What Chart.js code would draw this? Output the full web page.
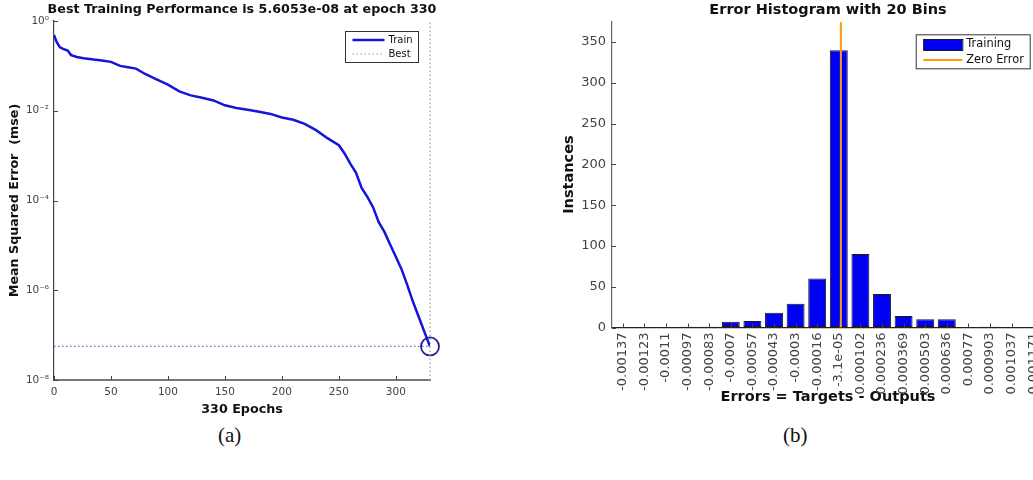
<!DOCTYPE html>
<html>
<head>
<meta charset="utf-8">
<script src="https://cdn.jsdelivr.net/npm/chart.js@4.4.0/dist/chart.umd.min.js"></script>
<style>
html, body { margin: 0; padding: 0; background: #fff; overflow: hidden; width: 1033px; height: 480px; }
#wrapA { position: absolute; left: 0; top: 0; width: 445px; height: 420px; }
#wrapB { position: absolute; left: 540px; top: 0; width: 520px; height: 412px; }
.cap { position: absolute; top: 423px; font-family: "Liberation Serif", "DejaVu Serif", serif; font-size: 21px; color: #111; }
</style>
</head>
<body>
<div id="wrapA"><canvas id="perfChart"></canvas></div>
<div id="wrapB"><canvas id="histChart"></canvas></div>
<div class="cap" style="left:218px">(a)</div>
<div class="cap" style="left:783px">(b)</div>

<script>
// (a) training performance, mse per epoch
var epochs   = [0, 2, 5, 8, 12, 15, 20, 26, 35, 42, 50, 58, 65, 72, 80, 90, 100, 110, 120, 130,
                140, 150, 160, 170, 180, 190, 200, 210, 220, 230, 240, 250, 255, 260, 265, 270,
                275, 280, 285, 290, 295, 300, 305, 310, 315, 320, 325, 330];
var trainMse = [0.49, 0.355, 0.263, 0.24, 0.219, 0.174, 0.158, 0.148, 0.138, 0.132, 0.123, 0.100,
                0.093, 0.087, 0.066, 0.050, 0.038, 0.027, 0.022, 0.0195, 0.017, 0.0132, 0.0115,
                0.0105, 0.0095, 0.0085, 0.0071, 0.0063, 0.0051, 0.0037, 0.00245, 0.0017, 0.00112,
                0.00066, 0.00042, 0.00019, 0.00012, 7.1e-5, 3.3e-5, 2.0e-5, 1.05e-5, 5.6e-6,
                2.95e-6, 1.32e-6, 5.6e-7, 2.6e-7, 1.2e-7, 5.6053e-8];
var bestMse = 5.6053e-8;
var bestEpoch = 330;
var yTickValues = [1e-8, 1e-6, 1e-4, 1e-2, 1];
var yTickLabels = ['10\u207B\u2078', '10\u207B\u2076', '10\u207B\u2074', '10\u207B\u00B2', '10\u2070'];

// (b) error histogram
var binLabels = ['-0.00137', '-0.00123', '-0.0011', '-0.00097', '-0.00083', '-0.0007', '-0.00057',
                 '-0.00043', '-0.0003', '-0.00016', '-3.1e-05', '0.000102', '0.000236', '0.000369',
                 '0.000503', '0.000636', '0.00077', '0.000903', '0.001037', '0.001171'];
var binCounts = [0, 0, 0, 1, 1, 7, 8, 18, 29, 60, 340, 90, 41, 14, 10, 10, 0, 1, 0, 0];
var zeroError = 0;

Chart.defaults.font.family = '"DejaVu Sans", sans-serif';

// title centered over the plot area
var areaTitle = {
    id: 'areaTitle',
    afterDraw: function(chart, args, opts) {
        var ctx = chart.ctx, a = chart.chartArea;
        ctx.save();
        ctx.font = 'bold ' + opts.size + 'px "DejaVu Sans"';
        ctx.fillStyle = '#111';
        ctx.textAlign = 'center';
        ctx.textBaseline = 'middle';
        ctx.fillText(opts.text, (a.left + a.right) / 2, opts.y);
        ctx.restore();
    }
};

// matlab style ticks pointing into the plot
var inTicks = {
    id: 'inTicks',
    afterDraw: function(chart, args, opts) {
        var ctx = chart.ctx, a = chart.chartArea;
        var xs = chart.scales.x, ys = chart.scales.y;
        ctx.save();
        ctx.strokeStyle = opts.color;
        ctx.lineWidth = 1;
        ctx.beginPath();
        xs.ticks.forEach(function(t, i) {
            var px = Math.round(xs.getPixelForTick(i)) + 0.5;
            ctx.moveTo(px, a.bottom);
            ctx.lineTo(px, a.bottom - opts.len);
        });
        ys.ticks.forEach(function(t, i) {
            var py = Math.round(ys.getPixelForTick(i)) + 0.5;
            ctx.moveTo(a.left, py);
            ctx.lineTo(a.left + opts.len, py);
        });
        ctx.stroke();
        ctx.restore();
    }
};

// legend with a box round it
var boxLegend = {
    id: 'boxLegend',
    afterDraw: function(chart, args, opts) {
        var ctx = chart.ctx;
        var items = chart.data.datasets.filter(function(d) { return d.legendKind; });
        ctx.save();
        ctx.fillStyle = '#fff';
        ctx.fillRect(opts.x, opts.y, opts.w, opts.h);
        ctx.strokeStyle = '#333';
        ctx.lineWidth = 1;
        ctx.strokeRect(opts.x + 0.5, opts.y + 0.5, opts.w, opts.h);
        ctx.font = opts.size + 'px "DejaVu Sans"';
        ctx.textBaseline = 'middle';
        items.forEach(function(d, i) {
            var cy = opts.y + opts.first + i * opts.row;
            var x0 = opts.x + opts.pad, x1 = x0 + opts.sample;
            if (d.legendKind === 'box') {
                ctx.fillStyle = d.backgroundColor;
                ctx.fillRect(x0, cy - 5, opts.sample, 11);
                ctx.strokeStyle = d.borderColor;
                ctx.lineWidth = 1;
                ctx.strokeRect(x0 + 0.5, cy - 4.5, opts.sample, 11);
            } else {
                ctx.strokeStyle = d.legendColor || d.borderColor;
                ctx.lineWidth = d.borderWidth;
                ctx.setLineDash(d.borderDash || []);
                ctx.beginPath();
                ctx.moveTo(x0, cy);
                ctx.lineTo(x1, cy);
                ctx.stroke();
                ctx.setLineDash([]);
            }
            ctx.fillStyle = '#111';
            ctx.fillText(d.label, x1 + 4, cy);
        });
        ctx.restore();
    }
};

//---------------- (a) performance plot
var trainPoints = epochs.map(function(e, i) { return {x: e, y: trainMse[i]}; });

var perfChart = new Chart(document.getElementById('perfChart'), {
    type: 'line',
    data: {
        datasets: [{
            label: 'Train',
            legendKind: 'line',
            data: trainPoints,
            borderColor: '#1414dc',
            borderWidth: 2.5,
            pointRadius: 0,
            tension: 0
        }, {
            label: 'Best',
            legendKind: 'line',
            legendColor: '#9a9a9a',
            data: [{x: 0, y: bestMse}, {x: bestEpoch, y: bestMse}],
            borderColor: '#6b6bd0',
            borderWidth: 1.2,
            borderDash: [1.5, 2.5],
            pointRadius: 0
        }, {
            label: 'best epoch',
            data: [{x: bestEpoch, y: 1e-8}, {x: bestEpoch, y: 1}],
            borderColor: '#a0a0a0',
            borderWidth: 1.2,
            borderDash: [1.5, 2.5],
            pointRadius: 0,
            clip: false
        }, {
            label: 'best point',
            data: [{x: bestEpoch, y: bestMse}],
            showLine: false,
            pointRadius: 9,
            pointBorderColor: '#22228c',
            pointBorderWidth: 1.8,
            pointBackgroundColor: 'transparent',
            clip: false
        }]
    },
    options: {
        responsive: true,
        maintainAspectRatio: false,
        animation: false,
        events: [],
        layout: { padding: { top: 21, right: 15, bottom: 2.5, left: 0 } },
        plugins: {
            legend: { display: false },
            tooltip: { enabled: false },
            areaTitle: { text: 'Best Training Performance is 5.6053e-08 at epoch 330', size: 12.7, y: 10 },
            inTicks: { color: '#444', len: 4 },
            boxLegend: { x: 345, y: 31, w: 73, h: 31, first: 9, row: 14, pad: 7.5, sample: 32, size: 10 }
        },
        scales: {
            x: {
                type: 'linear',
                min: 0,
                max: 330,
                grid: { drawOnChartArea: false, drawTicks: false },
                border: { color: '#777', width: 2 },
                ticks: { stepSize: 50, includeBounds: false, color: '#444', font: { size: 10.5 }, padding: 6 },
                title: { display: true, text: '330 Epochs', color: '#111', font: { size: 12.7, weight: 'bold' }, padding: { top: 0, bottom: 0 } },
                afterFit: function(s) { s.height = 37.5; }
            },
            y: {
                type: 'logarithmic',
                min: 1e-8,
                max: 1,
                grid: { drawOnChartArea: false, drawTicks: false },
                border: { color: '#444', width: 1.2 },
                afterBuildTicks: function(s) {
                    s.ticks = yTickValues.map(function(v) { return {value: v}; });
                },
                ticks: {
                    autoSkip: false,
                    color: '#444',
                    font: { size: 10.5 },
                    padding: 5,
                    callback: function(value) { return yTickLabels[yTickValues.indexOf(value)]; }
                },
                title: { display: true, text: 'Mean Squared Error  (mse)', color: '#111', font: { size: 12.7, weight: 'bold' }, padding: { top: 7.4, bottom: 0 } },
                afterFit: function(s) { s.width = 54; }
            }
        }
    },
    plugins: [areaTitle, inTicks, boxLegend]
});

//---------------- (b) error histogram
var halfBin = 0.0000669;

var histChart = new Chart(document.getElementById('histChart'), {
    type: 'bar',
    data: {
        labels: binLabels,
        datasets: [{
            label: 'Training',
            legendKind: 'box',
            data: binCounts,
            backgroundColor: '#0000f2',
            borderColor: '#1a1a1a',
            borderWidth: 1,
            borderSkipped: false,
            grouped: false,
            barPercentage: 0.83,
            categoryPercentage: 1,
            order: 2
        }, {
            type: 'line',
            label: 'Zero Error',
            legendKind: 'line',
            xAxisID: 'xz',
            data: [{x: zeroError, y: 0}, {x: zeroError, y: 375}],
            borderColor: '#ff9a14',
            borderWidth: 2,
            pointRadius: 0,
            order: 0
        }]
    },
    options: {
        responsive: true,
        maintainAspectRatio: false,
        animation: false,
        events: [],
        layout: { padding: { top: 21.7, right: 16, bottom: 6.5, left: 0 } },
        plugins: {
            legend: { display: false },
            tooltip: { enabled: false },
            areaTitle: { text: 'Error Histogram with 20 Bins', size: 14.5, y: 10 },
            inTicks: { color: '#444', len: 4 },
            boxLegend: { x: 375.7, y: 34.3, w: 114, h: 34, first: 9.7, row: 16, pad: 7.6, sample: 39, size: 11.4 }
        },
        scales: {
            x: {
                type: 'category',
                offset: true,
                grid: { drawOnChartArea: false, drawTicks: false, offset: false },
                border: { color: '#222', width: 1.2 },
                ticks: { autoSkip: false, minRotation: 90, maxRotation: 90, color: '#444', font: { size: 13 }, padding: 5 },
                title: { display: true, text: 'Errors = Targets - Outputs', color: '#111', font: { size: 14.5, weight: 'bold' }, padding: { top: 0, bottom: 0 } },
                afterFit: function(s) { s.height = 78; }
            },
            xz: {
                type: 'linear',
                display: false,
                min: -0.00137 - halfBin,
                max: 0.001171 + halfBin
            },
            y: {
                min: 0,
                max: 375,
                grid: { drawOnChartArea: false, drawTicks: false },
                border: { color: '#666', width: 1.2 },
                ticks: { stepSize: 50, includeBounds: false, color: '#444', font: { size: 13 }, padding: 6 },
                title: { display: true, text: 'Instances', color: '#111', font: { size: 14.5, weight: 'bold' }, padding: { top: 20.3, bottom: 0 } },
                afterFit: function(s) { s.width = 72; }
            }
        }
    },
    plugins: [areaTitle, inTicks, boxLegend]
});
</script>
</body>
</html>
